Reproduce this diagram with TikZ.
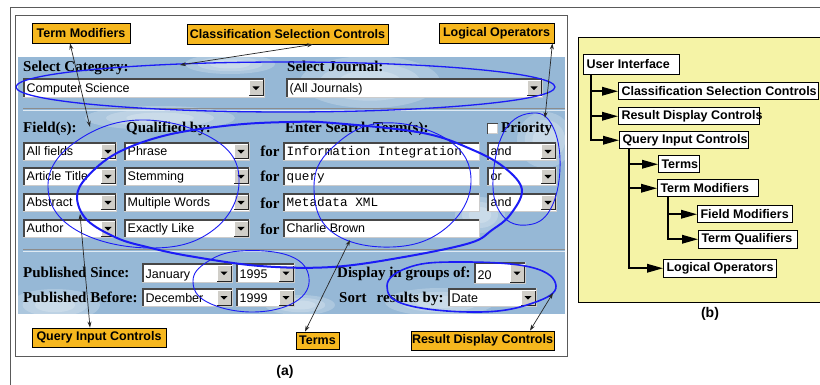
\documentclass[tikz,border=0pt]{standalone}
\usepackage{fontspec}
\setmainfont{Liberation Serif}
\setsansfont{Liberation Sans}
\setmonofont{Liberation Mono}
\usetikzlibrary{arrows.meta}
\definecolor{skyb}{RGB}{150,184,214}
\definecolor{lblor}{RGB}{246,183,30}
\definecolor{paley}{RGB}{245,243,166}
\definecolor{ink}{RGB}{28,28,246}
\definecolor{btn}{RGB}{208,206,200}
\definecolor{frm}{RGB}{90,90,90}

\newcommand\cbox[6]{%
  \fill[white] (#2,#3) rectangle (#4,#5);
  \draw[black!20,line width=1pt] (#2,#5-0.5) -- (#4-0.5,#5-0.5) -- (#4-0.5,#3);
  \draw[black!72,line width=1.8pt] (#2+0.9,#5-1) -- (#2+0.9,#3+0.9) -- (#4-1,#3+0.9);
  \fill[btn] (#4-16,#3+2.5) rectangle (#4-2,#5-2);
  \draw[black!85,line width=1pt] (#4-16,#5-2) -- (#4-2,#5-2) -- (#4-2,#3+2.5);
  \draw[white,line width=0.8pt] (#4-16,#5-2.5) -- (#4-16,#3+2.5) -- (#4-2.5,#3+2.5);
  \fill[black] (#4-12.5,{(#3+#5)/2-1.5}) -- (#4-5.5,{(#3+#5)/2-1.5}) -- (#4-9,{(#3+#5)/2+2.2}) -- cycle;
  \node[cbtext] (#1) at (#2+3.5,#5-5) {#6};
}
\newcommand\tfbox[7]{%
  \fill[white] (#2,#3) rectangle (#4,#5);
  \draw[black!20,line width=1pt] (#2,#5-0.5) -- (#4-0.5,#5-0.5) -- (#4-0.5,#3);
  \draw[black!72,line width=1.8pt] (#2+0.9,#5-1) -- (#2+0.9,#3+0.9) -- (#4-1,#3+0.9);
  \node[cbtext,font=#6] (#1) at (#2+3.5,#5-5) {#7};
}
\newcommand\cloud[4]{%
  \foreach \k in {1,0.72,0.45}{%
    \fill[white,opacity=0.21] (#1,#2) ellipse [x radius=\k*#3pt, y radius=\k*#4pt];}%
}
\newcommand\lft[2]{\makebox[#1][l]{#2}}

\begin{document}
\begin{tikzpicture}[x=1pt,y=-1pt,
  cbtext/.style={anchor=base west,inner sep=0pt,font=\fontsize{12.5}{14}\selectfont\sffamily},
  flab/.style={anchor=base west,inner sep=0pt,font=\fontsize{15}{17}\selectfont\bfseries},
  lab/.style={draw=black,line width=0.8pt,fill=lblor,inner sep=0pt,font=\fontsize{12.5}{14}\selectfont\sffamily\bfseries},
  larr/.style={black!85,line width=0.7pt,{Stealth[length=6pt,width=4pt]}-{Stealth[length=6pt,width=4pt]}},
  inkthin/.style={ink,line width=0.9pt},
  inkthick/.style={ink,line width=2pt},
  tn/.style={draw=black,line width=1pt,fill=white,anchor=north west,inner xsep=3pt,inner ysep=0pt,minimum height=17.5pt,font=\fontsize{12.5}{14}\selectfont\sffamily\bfseries},
  tarr/.style={black,line width=1.8pt,-{Triangle[length=16pt,width=8.5pt]}},
  capt/.style={font=\fontsize{14}{16}\selectfont\sffamily\bfseries}
]
\useasboundingbox (0,0) rectangle (820,385);
\fill[white] (0,0) rectangle (820,385);
% frames
\draw[frm,line width=0.8pt] (10,385) -- (10,7.5) -- (821,7.5);
\draw[frm,line width=1pt] (15.5,15.5) rectangle (567.5,356.5);
% sky panel
\begin{scope}
  \clip (18,57) rectangle (565,314);
  \fill[skyb] (18,57) rectangle (565,314);
  \cloud{370}{82}{70}{26}
  \cloud{230}{64}{45}{10}
  \cloud{160}{118}{75}{12}
  \cloud{545}{140}{28}{28}
  \cloud{55}{305}{45}{16}
  \cloud{440}{302}{55}{14}
  \cloud{300}{305}{35}{10}
  \cloud{480}{215}{25}{18}
\end{scope}
% separators
\draw[black!45,line width=1pt] (23,109) -- (565,109);
\draw[white!70!skyb,line width=0.8pt] (23,110.5) -- (565,110.5);
\draw[black!45,line width=1pt] (23,249.5) -- (565,249.5);
\draw[white!70!skyb,line width=0.8pt] (23,251) -- (565,251);

% top row
\node[flab] (selcat) at (23,72) {Select Category:};
\cbox{cat}{23}{78}{265}{98}{Computer Science}
\node[flab] (seljour) at (287,72) {Select Journal:};
\cbox{jour}{286}{78}{543}{98}{(All Journals)}

% headers
\node[flab] (fields) at (23,133) {Field(s):};
\node[flab] (qualby) at (126,133) {Qualified by:};
\node[flab] (enter) at (285,133) {Enter Search Term(s):};
\fill[white] (487,123) rectangle (498,134);
\draw[black!20] (487,133.5) -- (497.5,133.5) -- (497.5,123);
\draw[black!72,line width=1.4pt] (487.7,134) -- (487.7,123.7) -- (498,123.7);
\node[flab] (prio) at (501,133) {Priority};

% rows
\cbox{f1}{23}{142}{117}{161}{All fields}
\cbox{f2}{23}{167}{117}{186}{Article Title}
\cbox{f3}{23}{193}{117}{212}{Abstract}
\cbox{f4}{23}{219}{117}{238}{Author}
\cbox{q1}{124}{142}{250}{161}{Phrase}
\cbox{q2}{124}{167}{250}{186}{Stemming}
\cbox{q3}{124}{193}{250}{212}{Multiple Words}
\cbox{q4}{124}{219}{250}{238}{Exactly Like}
\node[flab,anchor=base] (for1) at (270,157) {for};
\node[flab,anchor=base] (for2) at (270,182) {for};
\node[flab,anchor=base] (for3) at (270,208) {for};
\node[flab,anchor=base] (for4) at (270,234) {for};
\tfbox{t1}{283}{142}{480}{161}{\fontsize{12.7}{14}\selectfont\ttfamily}{Information Integration}
\tfbox{t2}{283}{167}{480}{186}{\fontsize{12.7}{14}\selectfont\ttfamily}{query}
\tfbox{t3}{283}{193}{480}{212}{\fontsize{12.7}{14}\selectfont\ttfamily}{Metadata XML}
\tfbox{t4}{283}{219}{480}{238}{\fontsize{12.5}{14}\selectfont\sffamily}{Charlie Brown}
\cbox{l1}{487}{142}{557}{161}{and}
\cbox{l2}{487}{167}{557}{186}{or}
\cbox{l3}{487}{193}{557}{212}{and}

% dates and display
\node[flab] (since) at (23,277) {Published Since:};
\cbox{m1}{142}{263}{233}{283}{January}
\cbox{y1}{236}{263}{295}{283}{1995}
\node[flab] (before) at (23,302) {Published Before:};
\cbox{m2}{142}{288}{233}{307}{December}
\cbox{y2}{236}{288}{295}{307}{1999}
\node[flab] (disp) at (337,277) {Display in groups of:};
\cbox{grp}{474}{262}{526}{284}{20}
\node[flab] (sort) at (339,302) {Sort\hspace{10pt}results by:};
\cbox{sortby}{448}{288}{537}{307}{Date}

% blue hand-drawn ellipses
\draw[ink,line width=1.3pt] (285.5,87) ellipse [x radius=269.5pt, y radius=25pt];
\draw[inkthin] plot[smooth cycle,tension=0.7] coordinates {(48,187) (74,143) (140,120) (215,140) (239,183) (212,231) (150,248) (76,230)};
\draw[inkthin] plot[smooth cycle,tension=0.7] coordinates {(314,187) (332,148) (382,123) (448,140) (471,182) (446,228) (392,247) (332,232)};
\draw[inkthin] plot[smooth cycle,tension=0.7] coordinates {(493,180) (505,130) (533,113) (553,127) (560,168) (550,210) (527,225) (502,215)};
\draw[inkthin] plot[smooth cycle,tension=0.7] coordinates {(193,281) (207,262) (240,251) (290,256) (309,278) (295,302) (252,312) (207,302)};
\draw[ink,line width=1.6pt] plot[smooth cycle,tension=0.7] coordinates {(387,286) (407,268) (453,262) (530,267) (556,286) (533,303) (480,312) (407,305)};
\draw[inkthick] plot[smooth cycle,tension=0.6] coordinates {(77,197) (87,177) (117,153) (167,135) (233,125) (290,122) (333,123) (423,133) (473,150) (505,168) (522,190) (510,215) (492,230) (470,243) (404,257) (332,267) (260,266) (189,256) (147,247) (117,238) (87,220)};

% orange labels
\node[lab,minimum width=98pt,minimum height=20pt] (tm) at (81,33) {Term Modifiers};
\node[lab,minimum width=201pt,minimum height=20pt] (csc) at (287.5,34) {Classification Selection Controls};
\node[lab,minimum width=115pt,minimum height=20pt] (lo) at (496.5,33) {Logical Operators};
\node[lab,minimum width=134pt,minimum height=19pt] (qic) at (99,337.5) {Query Input Controls};
\node[lab,minimum width=43pt,minimum height=17pt] (terms) at (317.5,340.5) {Terms};
\node[lab,minimum width=143pt,minimum height=19pt] (rdc) at (482.5,340.5) {Result Display Controls};

\coordinate (tmE) at (90,127);
\coordinate (cscE) at (180,65);
\coordinate (loE) at (545,118);
\coordinate (qicE) at (80,214);
\coordinate (termsE) at (350,240);
\coordinate (rdcE) at (553,293);
\draw[larr] ([xshift=-11pt]tm.south) -- (tmE);
\draw[larr] ([xshift=25.5pt]csc.south) -- (cscE);
\draw[larr] ([xshift=-2pt]lo.south east) -- (loE);
\draw[larr] ([xshift=-9pt]qic.north) -- (qicE);
\draw[larr] ([xshift=-12.5pt]terms.north) -- (termsE);
\draw[larr] ([xshift=47.5pt]rdc.north) -- (rdcE);

\node[capt] (capa) at (285,372) {(a)};

% right panel (b)
\fill[paley] (578,38) rectangle (830,302);
\draw[black,line width=1pt] (830,38) -- (578,38) -- (578,302) -- (830,302);
\node[tn,minimum height=20pt] (ui) at (583,54) {\lft{90pt}{User Interface}};
\node[tn] (csc2) at (618,82) {\lft{194pt}{Classification Selection Controls}};
\node[tn] (rdc2) at (618,107) {\lft{135pt}{Result Display Controls}};
\node[tn] (qic2) at (619,131) {\lft{123pt}{Query Input Controls}};
\node[tn] (terms2) at (658,155) {\lft{35pt}{Terms}};
\node[tn] (tm2) at (657,179) {\lft{95pt}{Term Modifiers}};
\node[tn] (fm) at (697,205) {\lft{89pt}{Field Modifiers}};
\node[tn] (tq) at (698,230) {\lft{93pt}{Term Qualifiers}};
\node[tn] (lo2) at (663,259) {\lft{107pt}{Logical Operators}};
\draw[tarr] ([xshift=8pt]ui.south west) |- (csc2.west);
\draw[tarr] ([xshift=8pt]ui.south west) |- (rdc2.west);
\draw[tarr] ([xshift=8pt]ui.south west) |- (qic2.west);
\draw[tarr] ([xshift=10pt]qic2.south west) |- (terms2.west);
\draw[tarr] ([xshift=10pt]qic2.south west) |- (tm2.west);
\draw[tarr] ([xshift=10pt]qic2.south west) |- (lo2.west);
\draw[tarr] ([xshift=11pt]tm2.south west) |- (fm.west);
\draw[tarr] ([xshift=11pt]tm2.south west) |- (tq.west);
\node[capt] (capb) at (710,314) {(b)};
\end{tikzpicture}
\end{document}
